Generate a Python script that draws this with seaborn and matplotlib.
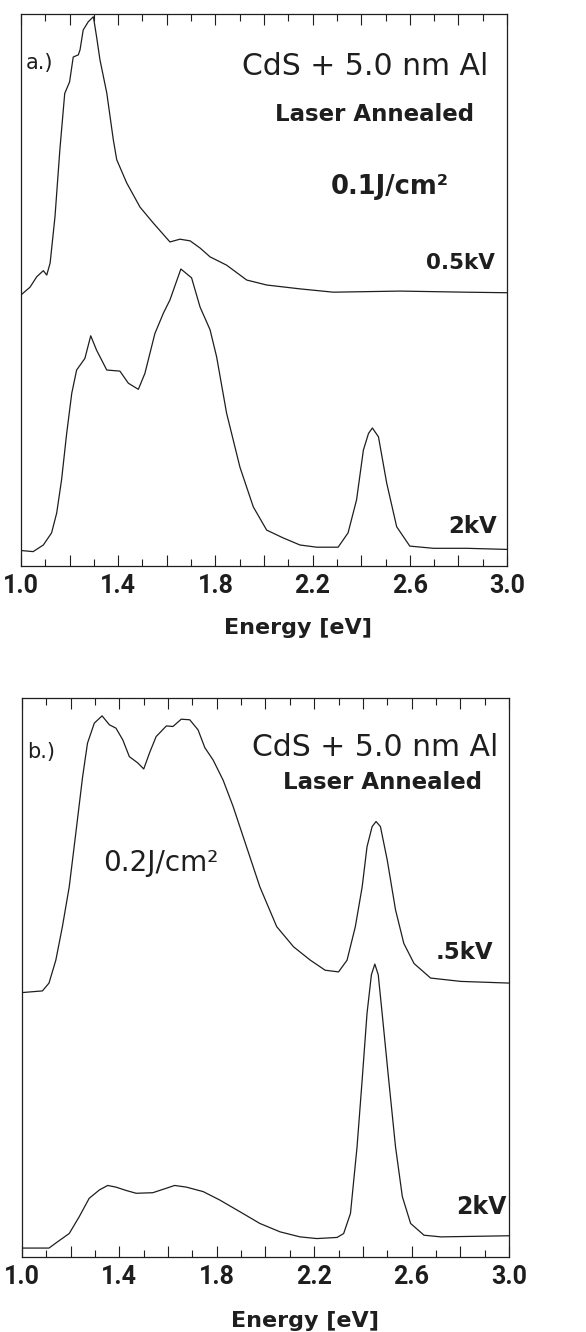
import numpy as np
import matplotlib
matplotlib.use("Agg")
import matplotlib.pyplot as plt
from matplotlib.ticker import MultipleLocator
import seaborn as sns

# ================= DATA =================
# panel a.) 0.1 J/cm2, intensity in arbitrary units (0-100 of panel height)
a_05kv_energy = [1.0, 1.037, 1.065, 1.092, 1.106, 1.12, 1.14, 1.16, 1.18, 1.20, 1.215, 1.236,
                 1.243, 1.256, 1.277, 1.298, 1.311, 1.325, 1.353, 1.38, 1.394, 1.435, 1.49,
                 1.545, 1.613, 1.654, 1.696, 1.737, 1.778, 1.846, 1.929, 2.011, 2.148, 2.285,
                 2.56, 2.83, 3.0]
a_05kv_int = [49.1, 50.5, 52.4, 53.5, 52.7, 54.9, 63.3, 75.4, 85.6, 87.7, 92.2, 92.6,
              93.5, 97.1, 98.6, 99.5, 95.9, 91.7, 85.7, 77.2, 73.6, 69.4, 65.0,
              62.1, 58.7, 59.2, 58.9, 57.6, 56.0, 54.5, 51.8, 50.9, 50.2, 49.6,
              49.8, 49.6, 49.5]

a_2kv_energy = [1.0, 1.05, 1.092, 1.126, 1.147, 1.167, 1.188, 1.209, 1.229, 1.263, 1.287,
                1.311, 1.353, 1.407, 1.442, 1.483, 1.51, 1.551, 1.586, 1.613, 1.658, 1.702,
                1.737, 1.778, 1.805, 1.846, 1.901, 1.956, 2.011, 2.078, 2.148, 2.217, 2.305,
                2.346, 2.381, 2.409, 2.43, 2.446, 2.471, 2.505, 2.546, 2.60, 2.697, 2.834, 3.0]
a_2kv_int = [2.8, 2.6, 3.8, 6.0, 9.6, 15.6, 24.0, 31.3, 35.5, 37.6, 41.7,
             39.1, 35.5, 35.3, 33.1, 32.0, 34.9, 42.1, 45.8, 48.2, 53.8, 52.2,
             46.9, 42.8, 37.9, 27.7, 17.9, 10.7, 6.5, 5.1, 3.8, 3.4, 3.4,
             6.0, 12.0, 21.0, 24.0, 25.0, 23.4, 15.0, 7.1, 3.6, 3.2, 3.2, 3.0]

# panel b.) 0.2 J/cm2
b_05kv_energy = [1.0, 1.084, 1.111, 1.139, 1.166, 1.194, 1.221, 1.249, 1.269, 1.297, 1.329,
                 1.359, 1.386, 1.414, 1.441, 1.475, 1.50, 1.524, 1.551, 1.593, 1.62, 1.654,
                 1.689, 1.723, 1.751, 1.785, 1.826, 1.867, 1.922, 1.977, 2.046, 2.115, 2.184,
                 2.245, 2.30, 2.335, 2.369, 2.397, 2.417, 2.438, 2.454, 2.472, 2.50, 2.534,
                 2.568, 2.61, 2.678, 2.802, 3.0]
b_05kv_int = [47.3, 47.6, 49.0, 53.1, 59.1, 66.2, 75.8, 85.9, 91.9, 95.5, 96.8,
              95.2, 94.6, 92.5, 89.5, 88.4, 87.3, 90.2, 93.1, 95.0, 94.9, 96.2,
              96.1, 94.3, 91.1, 88.9, 85.3, 80.6, 73.4, 66.2, 59.1, 55.5, 53.1,
              51.3, 51.0, 53.1, 59.1, 66.2, 73.4, 77.0, 77.9, 77.0, 71.0, 62.1,
              56.1, 52.5, 49.9, 49.3, 49.0]

b_2kv_energy = [1.0, 1.111, 1.139, 1.194, 1.235, 1.276, 1.318, 1.352, 1.386, 1.428, 1.469,
                1.537, 1.579, 1.627, 1.675, 1.744, 1.812, 1.895, 1.977, 2.06, 2.142, 2.211,
                2.294, 2.321, 2.349, 2.376, 2.397, 2.417, 2.435, 2.449, 2.463, 2.479, 2.506,
                2.534, 2.562, 2.596, 2.651, 2.72, 3.0]
b_2kv_int = [1.6, 1.6, 2.5, 4.2, 7.2, 10.5, 12.0, 12.8, 12.5, 11.9, 11.4,
             11.5, 12.1, 12.8, 12.5, 11.7, 10.2, 8.1, 6.0, 4.5, 3.6, 3.3,
             3.5, 4.2, 7.8, 19.7, 31.7, 43.6, 50.5, 52.4, 50.5, 43.6, 31.7,
             19.7, 10.8, 6.0, 3.9, 3.6, 3.8]

tick_values = [1.0, 1.2, 1.4, 1.6, 1.8, 2.0, 2.2, 2.4, 2.6, 2.8, 3.0]
tick_labels = ["1.0", "", "1.4", "", "1.8", "", "2.2", "", "2.6", "", "3.0"]

# ================= STYLE =================
sns.set_style("ticks")
plt.rcParams["font.family"] = ["DejaVu Sans"]
INK = "#1e1e1e"
TICKFONT = ["Roboto", "DejaVu Sans"]

fig = plt.figure(figsize=(5.86, 13.32), dpi=100)
ax_a = fig.add_axes([0.0358, 0.5751, 0.8294, 0.4144])
ax_b = fig.add_axes([0.0375, 0.0563, 0.8311, 0.4197])


def style_axes(ax, label_x, label_y):
    ax.set_xlim(1.0, 3.0)
    ax.set_ylim(0, 100)
    ax.set_yticks([])
    ax.set_ylabel("")
    ax.set_xticks(tick_values)
    ax.set_xticklabels(tick_labels, fontsize=18, fontweight="bold", family=TICKFONT, color=INK)
    ax.xaxis.set_minor_locator(MultipleLocator(0.1))
    ax.tick_params(axis="x", which="major", direction="in", length=8, width=0.8,
                   top=True, bottom=True, pad=6, colors=INK)
    ax.tick_params(axis="x", which="minor", direction="in", length=5, width=0.8,
                   top=True, bottom=True, colors=INK)
    for sp in ax.spines.values():
        sp.set_color(INK)
        sp.set_linewidth(0.9)
    ax.set_xlabel("Energy [eV]", fontsize=16, fontweight="bold", color=INK)
    ax.xaxis.set_label_coords(label_x, label_y)


# ================= PANEL a.) =================
sns.lineplot(x=a_05kv_energy, y=a_05kv_int, ax=ax_a, color=INK, lw=0.9)
sns.lineplot(x=a_2kv_energy, y=a_2kv_int, ax=ax_a, color=INK, lw=0.9)
style_axes(ax_a, 0.57, -0.095)

ax_a.text(0.039, 0.911, "a.)", transform=ax_a.transAxes, ha="center", va="center",
          fontsize=15, color=INK)
ax_a.text(0.961, 0.904, "CdS + 5.0 nm Al", transform=ax_a.transAxes, ha="right", va="center",
          fontsize=21.5, color=INK)
ax_a.text(0.728, 0.817, "Laser Annealed", transform=ax_a.transAxes, ha="center", va="center",
          fontsize=16.5, fontweight="bold", color=INK)
ax_a.text(0.759, 0.687, "0.1J/cm²", transform=ax_a.transAxes, ha="center", va="center",
          fontsize=18.5, fontweight="bold", color=INK)
ax_a.text(0.975, 0.549, "0.5kV", transform=ax_a.transAxes, ha="right", va="center",
          fontsize=15.5, fontweight="bold", color=INK)
ax_a.text(0.979, 0.071, "2kV", transform=ax_a.transAxes, ha="right", va="center",
          fontsize=16.5, fontweight="bold", color=INK)

# ================= PANEL b.) =================
sns.lineplot(x=b_05kv_energy, y=b_05kv_int, ax=ax_b, color=INK, lw=0.9)
sns.lineplot(x=b_2kv_energy, y=b_2kv_int, ax=ax_b, color=INK, lw=0.9)
style_axes(ax_b, 0.581, -0.097)

ax_b.text(0.039, 0.903, "b.)", transform=ax_b.transAxes, ha="center", va="center",
          fontsize=15, color=INK)
ax_b.text(0.977, 0.912, "CdS + 5.0 nm Al", transform=ax_b.transAxes, ha="right", va="center",
          fontsize=21.5, color=INK)
ax_b.text(0.741, 0.848, "Laser Annealed", transform=ax_b.transAxes, ha="center", va="center",
          fontsize=16.5, fontweight="bold", color=INK)
ax_b.text(0.285, 0.705, "0.2J/cm²", transform=ax_b.transAxes, ha="center", va="center",
          fontsize=20, color=INK)
ax_b.text(0.967, 0.544, ".5kV", transform=ax_b.transAxes, ha="right", va="center",
          fontsize=16.5, fontweight="bold", color=INK)
ax_b.text(0.994, 0.089, "2kV", transform=ax_b.transAxes, ha="right", va="center",
          fontsize=17, fontweight="bold", color=INK)

fig.savefig("out.png", dpi=100, facecolor="white")
